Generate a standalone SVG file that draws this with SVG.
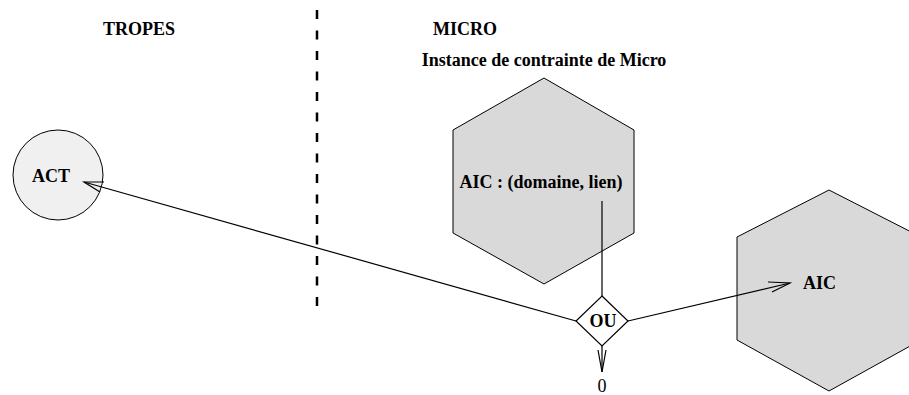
<svg xmlns="http://www.w3.org/2000/svg" width="909" height="395" viewBox="0 0 909 395">
<style>
text{font-family:"Liberation Serif","Times New Roman",serif;font-size:18px;fill:#000}
.b{font-weight:bold}
.hex{fill:#d9d9d9;stroke:#000;stroke-width:1}
.ln{fill:none;stroke:#000;stroke-width:1.2}
.sep{stroke:#000;stroke-width:2.5;stroke-dasharray:9 11.5;fill:none}
</style>
<rect width="909" height="395" fill="#fff"/>
<g id="labels">
<text class="b" x="103" y="35">TROPES</text>
<text class="b" x="433" y="35">MICRO</text>
<text class="b" x="544" y="66" text-anchor="middle">Instance de contrainte de Micro</text>
</g>
<line id="separator" class="sep" x1="317" y1="10" x2="317" y2="306"/>
<g id="act">
<circle cx="58" cy="175" r="45" fill="#f0f0f0" stroke="#000" stroke-width="1"/>
<text class="b" x="51" y="182" text-anchor="middle">ACT</text>
</g>
<g id="aic-domaine-lien">
<polygon class="hex" points="544,78 634,130 634,233 544,284 453,233 453,130"/>
<text class="b" x="541" y="188" text-anchor="middle">AIC : (domaine, lien)</text>
</g>
<g id="aic">
<polygon class="hex" points="829,190 921,237 921,340 829,391 737,340 737,237"/>
<text class="b" x="803" y="289">AIC</text>
</g>
<g id="ou">
<polygon points="602,296 628,321 602,346 576,321" fill="#fff" stroke="#000" stroke-width="1.2"/>
<text class="b" x="603" y="327" text-anchor="middle">OU</text>
</g>
<g id="zero">
<text x="602" y="392" text-anchor="middle">0</text>
</g>
<g id="connectors">
<line class="ln" x1="602" y1="201" x2="602" y2="296"/>
<line class="ln" x1="576" y1="321" x2="84" y2="182"/>
<polyline class="ln" points="104,182 84,182 100,192"/>
<line class="ln" x1="628" y1="321" x2="790" y2="283"/>
<polyline class="ln" points="768,282 790,283 772,292"/>
<line class="ln" x1="602" y1="346" x2="602" y2="372"/>
<polyline class="ln" points="598,350 602,372 606,350"/>
</g>
</svg>
